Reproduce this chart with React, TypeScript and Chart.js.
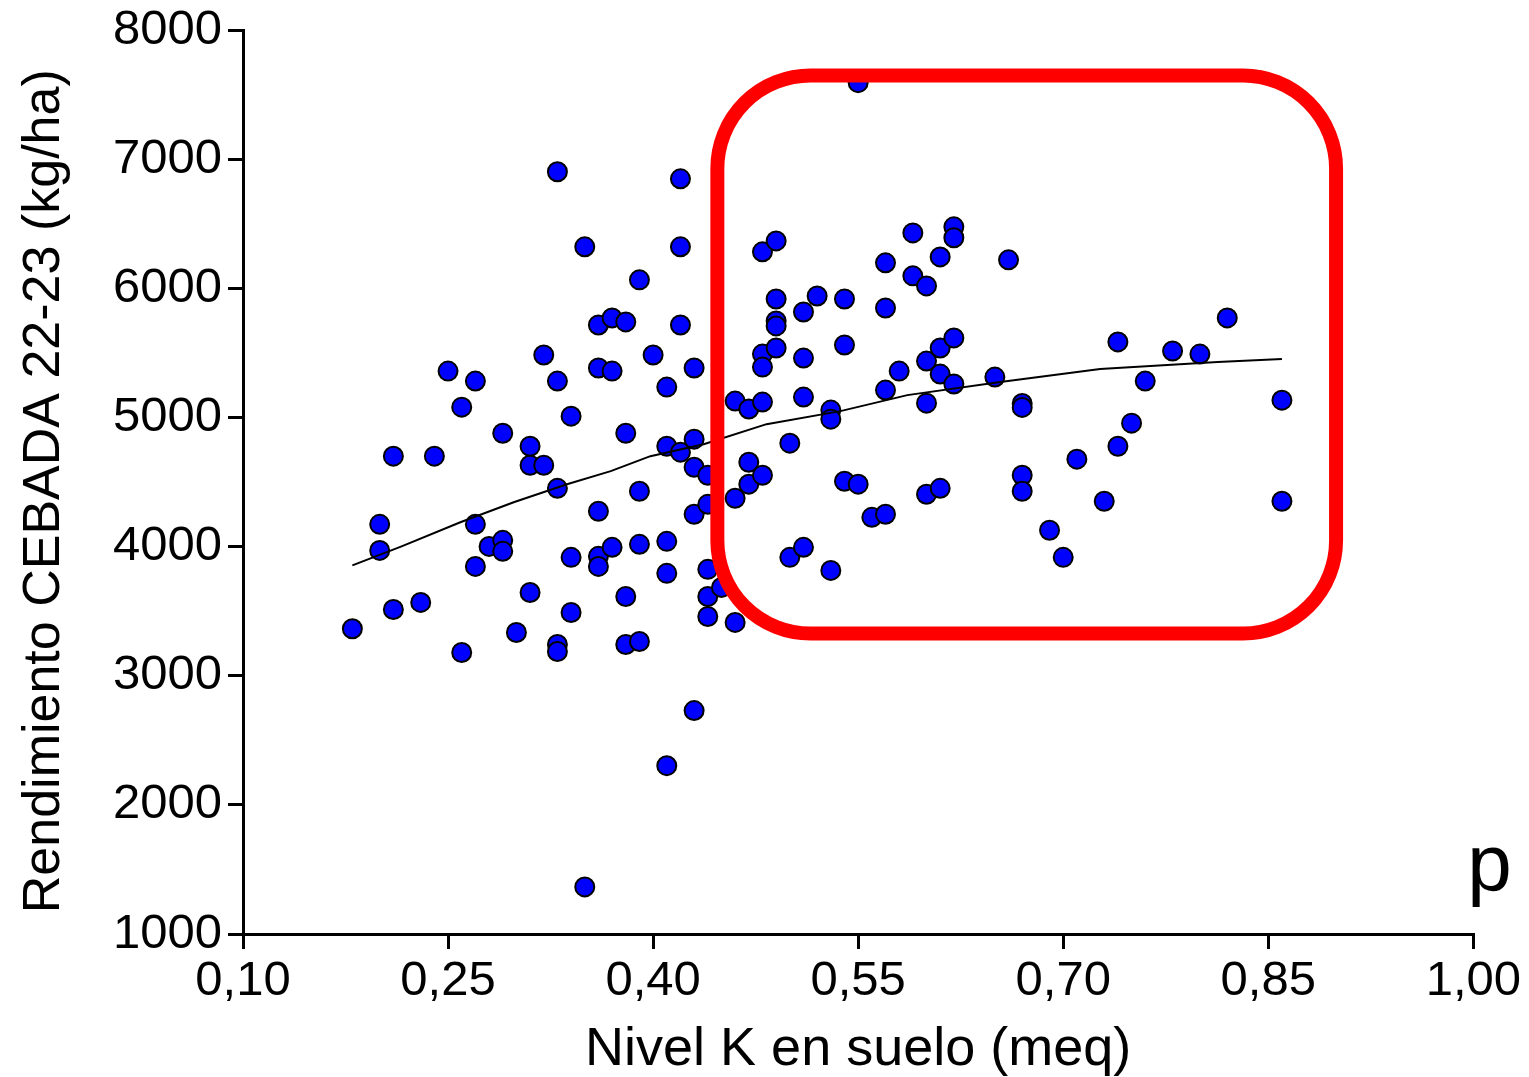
import React, { useEffect, useRef } from "react";
import { Chart, registerables } from "chart.js";

Chart.register(...registerables);

// Nivel K en suelo (meq)
const kLevel = [
  0.18, 0.20, 0.20, 0.21, 0.21, 0.23, 0.24, 0.25, 0.26, 0.26,
  0.27, 0.27, 0.27, 0.28, 0.29, 0.29, 0.29, 0.30, 0.31, 0.31,
  0.31, 0.32, 0.32, 0.33, 0.33, 0.33, 0.33, 0.33, 0.34, 0.34,
  0.34, 0.35, 0.35, 0.36, 0.36, 0.36, 0.36, 0.36, 0.37, 0.37,
  0.37, 0.38, 0.38, 0.38, 0.38, 0.39, 0.39, 0.39, 0.39, 0.40,
  0.41, 0.41, 0.41, 0.41, 0.41, 0.42, 0.42, 0.42, 0.42, 0.43,
  0.43, 0.43, 0.43, 0.43, 0.44, 0.44, 0.44, 0.44, 0.44, 0.45,
  0.46, 0.46, 0.46, 0.47, 0.47, 0.47, 0.48, 0.48, 0.48, 0.48,
  0.48, 0.49, 0.49, 0.49, 0.49, 0.49, 0.50, 0.50, 0.51, 0.51,
  0.51, 0.51, 0.52, 0.53, 0.53, 0.53, 0.54, 0.54, 0.54, 0.55,
  0.55, 0.56, 0.57, 0.57, 0.57, 0.57, 0.58, 0.59, 0.59, 0.60,
  0.60, 0.60, 0.60, 0.61, 0.61, 0.61, 0.61, 0.62, 0.62, 0.62,
  0.62, 0.65, 0.66, 0.67, 0.67, 0.67, 0.67, 0.69, 0.70, 0.71,
  0.73, 0.74, 0.74, 0.75, 0.76, 0.78, 0.80, 0.82, 0.86, 0.86,
];

// Rendimiento CEBADA 22-23 (kg/ha)
const yieldKgHa = [
  3365, 4174, 3972, 4702, 3514, 3569, 4702, 5361, 5082, 3181,
  5284, 4174, 3848, 4003, 4880, 4050, 3965, 3336, 4779, 4632,
  3646, 5486, 4632, 6906, 5284, 4453, 3243, 3189, 5012, 3918,
  3491, 6324, 1365, 5718, 5385, 4275, 3926, 3848, 5773, 5361,
  3996, 5742, 4880, 3615, 3243, 6068, 4430, 4019, 3266, 5486,
  5237, 4779, 4042, 3794, 2304, 6851, 6324, 5718, 4733, 5385,
  4834, 4616, 4252, 2731, 4554, 4329, 3825, 3615, 3460, 3685,
  5129, 4376, 3414, 5067, 4655, 4485, 6285, 5493, 5392, 5121,
  4554, 6370, 5920, 5749, 5711, 5540, 4803, 3918, 5819, 5462,
  5160, 3996, 5943, 5059, 4989, 3817, 5920, 5563, 4508, 7596,
  4485, 4228, 6200, 5850, 5214, 4252, 5361, 6432, 6099, 6021,
  5439, 5113, 4407, 6246, 5540, 5338, 4453, 6479, 6394, 5618,
  5261, 5315, 6223, 5110, 5080, 4554, 4430, 4128, 3918, 4679,
  4353, 5587, 4779, 4958, 5284, 5517, 5493, 5773, 5136, 4353,
];

// smoothed trend line
const trendK = [0.18, 0.216, 0.259, 0.298, 0.337, 0.369, 0.398, 0.437, 0.483, 0.537, 0.586, 0.654, 0.727, 0.813, 0.86];
const trendY = [3856, 4003, 4190, 4345, 4485, 4586, 4702, 4795, 4950, 5051, 5175, 5276, 5377, 5431, 5455];

// highlighted region (data units)
const boxK = [0.447, 0.8996];
const boxY = [3328, 7651];

const xTitle = "Nivel K en suelo (meq)";
const yTitle = "Rendimiento CEBADA 22-23 (kg/ha)";
const cornerLabel = "p";

const FONT = "'Liberation Sans', Arial, sans-serif";

const overlayPlugin = {
  id: "overlay",
  afterDatasetsDraw(chart: any) {
    const { ctx, scales, chartArea } = chart;
    const x = scales.x;
    const y = scales.y;
    const x0 = x.getPixelForValue(boxK[0]);
    const x1 = x.getPixelForValue(boxK[1]);
    const y0 = y.getPixelForValue(boxY[1]);
    const y1 = y.getPixelForValue(boxY[0]);
    ctx.save();
    ctx.strokeStyle = "#ff0000";
    ctx.lineWidth = 14;
    ctx.beginPath();
    ctx.roundRect(x0, y0, x1 - x0, y1 - y0, 93);
    ctx.stroke();
    ctx.fillStyle = "#000";
    ctx.font = "80px " + FONT;
    ctx.textAlign = "left";
    ctx.textBaseline = "alphabetic";
    ctx.fillText(cornerLabel, chartArea.right - 6, chartArea.bottom - 44);
    // vertical axis title
    ctx.translate(chartArea.left - 198, (chartArea.top + chartArea.bottom) / 2 + 9);
    ctx.rotate(-Math.PI / 2);
    ctx.font = "52px " + FONT;
    ctx.textAlign = "center";
    ctx.textBaseline = "middle";
    ctx.fillText(yTitle, 0, 0);
    ctx.restore();
  },
};

export default function App() {
  const ref = useRef<HTMLCanvasElement | null>(null);

  useEffect(() => {
    if (!ref.current) return;
    const points = kLevel.map((k, i) => ({ x: k, y: yieldKgHa[i] }));
    const trend = trendK.map((k, i) => ({ x: k, y: trendY[i] }));
    const chart = new Chart(ref.current, {
      type: "scatter",
      data: {
        datasets: [
          {
            label: "trend",
            data: trend,
            showLine: true,
            borderColor: "#000",
            borderWidth: 2,
            pointRadius: 0,
            fill: false,
            tension: 0,
          },
          {
            label: "datos",
            data: points,
            pointStyle: "circle",
            pointRadius: 9.5,
            pointBorderWidth: 2,
            backgroundColor: "#0000ff",
            borderColor: "#000",
          },
        ],
      },
      options: {
        responsive: false,
        animation: false,
        layout: { padding: { top: 16, right: 40, left: 0, bottom: 0 } },
        plugins: {
          legend: { display: false },
          tooltip: { enabled: false },
        },
        scales: {
          x: {
            type: "linear",
            min: 0.1,
            max: 1.0,
            afterFit: (s: any) => {
              s.height = 143;
            },
            ticks: {
              stepSize: 0.15,
              color: "#000",
              padding: 8,
              font: { family: FONT, size: 49, lineHeight: 1 },
              callback: (v: any) => Number(v).toFixed(2).replace(".", ","),
            },
            grid: {
              drawOnChartArea: false,
              color: "#000",
              lineWidth: 3,
              tickLength: 15,
            },
            border: { display: true, color: "#000", width: 3 },
            title: {
              display: true,
              text: xTitle,
              color: "#000",
              font: { family: FONT, size: 54, lineHeight: 1 },
              padding: 0,
            },
          },
          y: {
            type: "linear",
            min: 1000,
            max: 8000,
            afterFit: (s: any) => {
              s.width = 235;
            },
            ticks: {
              stepSize: 1000,
              color: "#000",
              padding: 6,
              font: { family: FONT, size: 49, lineHeight: 1 },
              callback: (v: any) => String(Math.round(Number(v))),
            },
            grid: {
              drawOnChartArea: false,
              color: "#000",
              lineWidth: 3,
              tickLength: 15,
            },
            border: { display: true, color: "#000", width: 3 },
            title: { display: false },
          },
        },
      },
      plugins: [overlayPlugin],
    });
    return () => chart.destroy();
  }, []);

  return (
    <canvas
      ref={ref}
      width={1521}
      height={1077}
      style={{ display: "block", marginTop: -8 }}
    />
  );
}
